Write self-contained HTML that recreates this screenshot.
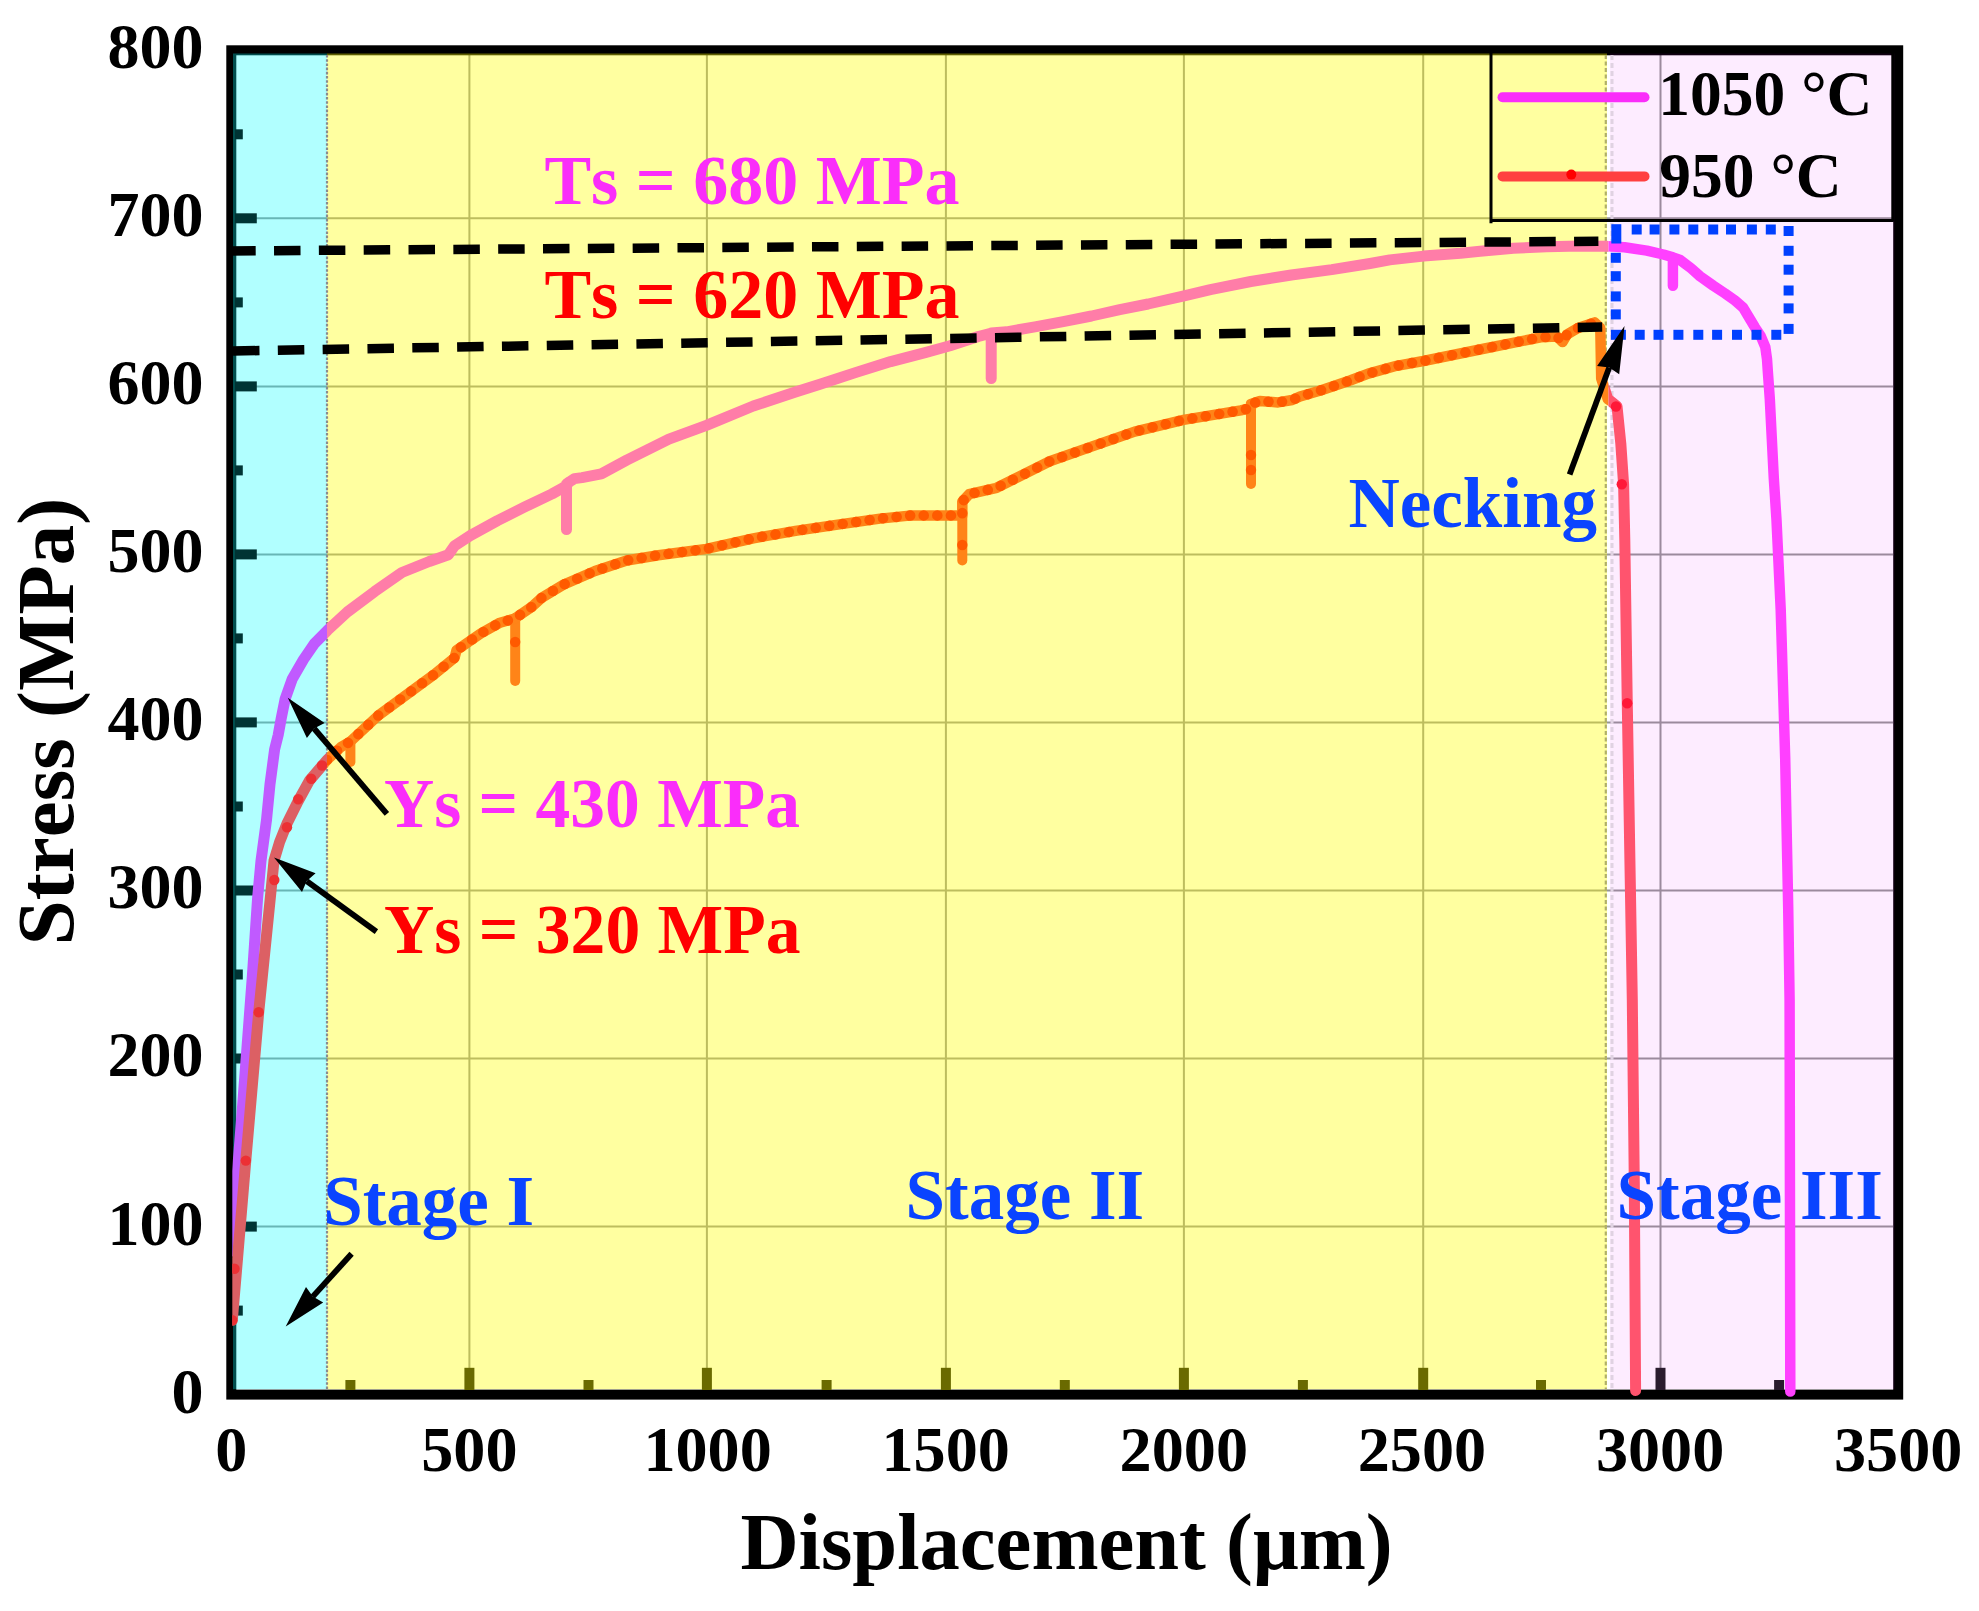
<!DOCTYPE html>
<html lang="en"><head><meta charset="utf-8"><title>Stress - Displacement</title>
<style>html,body{margin:0;padding:0;background:#fff}svg{display:block}text{font-family:"Liberation Serif","DejaVu Serif",serif;font-weight:bold;font-kerning:none}</style></head><body>
<svg width="1979" height="1611" viewBox="0 0 1979 1611">
<rect width="1979" height="1611" fill="#fff"/>
<defs>
<clipPath id="cC"><rect x="232.3" y="50" width="94.7" height="1350"/></clipPath>
<clipPath id="cY"><rect x="327.0" y="50" width="1281.5" height="1350"/></clipPath>
<clipPath id="cP"><rect x="1608.5" y="50" width="293.0" height="1350"/></clipPath>
<clipPath id="cAll"><rect x="232.3" y="50" width="1670" height="1350"/></clipPath>
</defs>
<g stroke="#969696" stroke-width="2">
<line x1="469.4" y1="55" x2="469.4" y2="1390"/>
<line x1="706.9" y1="55" x2="706.9" y2="1390"/>
<line x1="945.9" y1="55" x2="945.9" y2="1390"/>
<line x1="1183.9" y1="55" x2="1183.9" y2="1390"/>
<line x1="1423.2" y1="55" x2="1423.2" y2="1390"/>
<line x1="1660.5" y1="55" x2="1660.5" y2="1390"/>
<line x1="236" y1="1226.6" x2="1893" y2="1226.6"/>
<line x1="236" y1="1058.5" x2="1893" y2="1058.5"/>
<line x1="236" y1="890.5" x2="1893" y2="890.5"/>
<line x1="236" y1="722.4" x2="1893" y2="722.4"/>
<line x1="236" y1="554.4" x2="1893" y2="554.4"/>
<line x1="236" y1="386.4" x2="1893" y2="386.4"/>
<line x1="236" y1="218.3" x2="1893" y2="218.3"/>
</g>
<rect x="231.3" y="50.3" width="1666.9" height="1344.3" fill="none" stroke="#000" stroke-width="10"/>
<rect x="233" y="53.5" width="94.0" height="1335.7" fill="rgb(0,255,255)" fill-opacity="0.305"/>
<rect x="327.0" y="53.5" width="1280.0" height="1335.7" fill="rgb(255,255,0)" fill-opacity="0.373"/>
<rect x="1610.0" y="53.5" width="284.5" height="1335.7" fill="rgb(230,0,255)" fill-opacity="0.075"/>
<g stroke="#003434" stroke-width="10"><line x1="235" y1="1226.6" x2="256.8" y2="1226.6"/><line x1="235" y1="1058.5" x2="256.8" y2="1058.5"/><line x1="235" y1="890.5" x2="256.8" y2="890.5"/><line x1="235" y1="722.4" x2="256.8" y2="722.4"/><line x1="235" y1="554.4" x2="256.8" y2="554.4"/><line x1="235" y1="386.4" x2="256.8" y2="386.4"/><line x1="235" y1="218.3" x2="256.8" y2="218.3"/><line x1="235" y1="1310.6" x2="242.8" y2="1310.6"/><line x1="235" y1="1142.5" x2="242.8" y2="1142.5"/><line x1="235" y1="974.5" x2="242.8" y2="974.5"/><line x1="235" y1="806.5" x2="242.8" y2="806.5"/><line x1="235" y1="638.4" x2="242.8" y2="638.4"/><line x1="235" y1="470.4" x2="242.8" y2="470.4"/><line x1="235" y1="302.4" x2="242.8" y2="302.4"/><line x1="235" y1="134.3" x2="242.8" y2="134.3"/></g><line x1="350.4" y1="1390" x2="350.4" y2="1380.0" stroke="#6A6A00" stroke-width="10"/><line x1="469.4" y1="1390" x2="469.4" y2="1367.8" stroke="#6A6A00" stroke-width="10"/><line x1="588.5" y1="1390" x2="588.5" y2="1380.0" stroke="#6A6A00" stroke-width="10"/><line x1="706.9" y1="1390" x2="706.9" y2="1367.8" stroke="#6A6A00" stroke-width="10"/><line x1="826.6" y1="1390" x2="826.6" y2="1380.0" stroke="#6A6A00" stroke-width="10"/><line x1="945.9" y1="1390" x2="945.9" y2="1367.8" stroke="#6A6A00" stroke-width="10"/><line x1="1064.8" y1="1390" x2="1064.8" y2="1380.0" stroke="#6A6A00" stroke-width="10"/><line x1="1183.9" y1="1390" x2="1183.9" y2="1367.8" stroke="#6A6A00" stroke-width="10"/><line x1="1302.9" y1="1390" x2="1302.9" y2="1380.0" stroke="#6A6A00" stroke-width="10"/><line x1="1423.2" y1="1390" x2="1423.2" y2="1367.8" stroke="#6A6A00" stroke-width="10"/><line x1="1541.0" y1="1390" x2="1541.0" y2="1380.0" stroke="#6A6A00" stroke-width="10"/><line x1="1660.5" y1="1390" x2="1660.5" y2="1367.8" stroke="#2A1C2E" stroke-width="10"/><line x1="1779.1" y1="1390" x2="1779.1" y2="1380.0" stroke="#2A1C2E" stroke-width="10"/>
<line x1="327.0" y1="55" x2="327.0" y2="1390" stroke="#8c8c8c" stroke-width="2.2" stroke-dasharray="2.6 1.6"/>
<line x1="1605.8" y1="55" x2="1605.8" y2="1389" stroke="#B0B068" stroke-width="2.2" stroke-dasharray="4 2.5"/>
<line x1="1612" y1="55" x2="1612" y2="1389" stroke="#E0D2E2" stroke-width="3" stroke-dasharray="5 3"/>
<polyline clip-path="url(#cC)" points="231.3,1251.0 242.6,1105.8 252.3,976.8 257.6,898.0 261.0,860.7 266.5,820.0 270.0,784.3 274.6,749.5 278.2,735.0 281.1,719.0 285.1,699.2 292.1,679.3 303.5,659.5 314.4,643.6 327.5,630.3 347.3,612.0 374.6,591.6 401.9,572.5 429.2,561.5 448.4,554.7 454.5,545.8 470.2,535.6 497.5,520.6 524.8,506.9 552.1,493.9 563.5,487.5 566.5,485.5 566.5,529.5 566.5,484.0 570.0,481.5 574.5,478.6 582.0,477.6 601.3,473.9 626.7,460.2 668.9,439.1 706.4,425.4 753.3,406.0 795.5,392.0 820.0,384.3 855.4,372.6 890.7,361.6 926.1,352.4 950.0,345.7 978.3,336.5 988.0,334.0 991.2,333.5 991.2,378.5 991.2,333.0 1006.6,331.8 1034.9,326.9 1063.2,321.6 1091.5,316.0 1119.8,309.6 1148.1,304.0 1184.1,295.9 1210.4,289.6 1250.8,281.5 1291.3,275.0 1331.7,269.6 1370.0,263.5 1389.8,259.9 1423.7,256.1 1460.5,253.3 1480.0,251.3 1513.4,248.3 1546.7,246.8 1580.1,246.1 1606.7,246.3 1624.5,247.2 1646.8,250.6 1663.4,254.5 1672.9,257.3 1672.9,285.8 1672.9,257.3 1680.1,260.0 1691.2,268.4 1700.0,276.2 1713.2,285.6 1725.1,293.5 1735.0,300.5 1743.0,307.4 1748.9,317.3 1754.9,327.3 1760.8,336.2 1765.3,347.1 1767.0,359.0 1767.8,371.0 1769.8,398.8 1771.8,438.5 1773.8,478.2 1776.5,520.0 1780.7,609.4 1785.2,758.4 1788.2,907.4 1789.6,1000.0 1790.3,1391.5" fill="none" stroke="#C05AFF" stroke-width="11" stroke-linejoin="round" stroke-linecap="round"/><polyline clip-path="url(#cY)" points="231.3,1251.0 242.6,1105.8 252.3,976.8 257.6,898.0 261.0,860.7 266.5,820.0 270.0,784.3 274.6,749.5 278.2,735.0 281.1,719.0 285.1,699.2 292.1,679.3 303.5,659.5 314.4,643.6 327.5,630.3 347.3,612.0 374.6,591.6 401.9,572.5 429.2,561.5 448.4,554.7 454.5,545.8 470.2,535.6 497.5,520.6 524.8,506.9 552.1,493.9 563.5,487.5 566.5,485.5 566.5,529.5 566.5,484.0 570.0,481.5 574.5,478.6 582.0,477.6 601.3,473.9 626.7,460.2 668.9,439.1 706.4,425.4 753.3,406.0 795.5,392.0 820.0,384.3 855.4,372.6 890.7,361.6 926.1,352.4 950.0,345.7 978.3,336.5 988.0,334.0 991.2,333.5 991.2,378.5 991.2,333.0 1006.6,331.8 1034.9,326.9 1063.2,321.6 1091.5,316.0 1119.8,309.6 1148.1,304.0 1184.1,295.9 1210.4,289.6 1250.8,281.5 1291.3,275.0 1331.7,269.6 1370.0,263.5 1389.8,259.9 1423.7,256.1 1460.5,253.3 1480.0,251.3 1513.4,248.3 1546.7,246.8 1580.1,246.1 1606.7,246.3 1624.5,247.2 1646.8,250.6 1663.4,254.5 1672.9,257.3 1672.9,285.8 1672.9,257.3 1680.1,260.0 1691.2,268.4 1700.0,276.2 1713.2,285.6 1725.1,293.5 1735.0,300.5 1743.0,307.4 1748.9,317.3 1754.9,327.3 1760.8,336.2 1765.3,347.1 1767.0,359.0 1767.8,371.0 1769.8,398.8 1771.8,438.5 1773.8,478.2 1776.5,520.0 1780.7,609.4 1785.2,758.4 1788.2,907.4 1789.6,1000.0 1790.3,1391.5" fill="none" stroke="#FF7DA8" stroke-width="11" stroke-linejoin="round" stroke-linecap="round"/><polyline clip-path="url(#cP)" points="231.3,1251.0 242.6,1105.8 252.3,976.8 257.6,898.0 261.0,860.7 266.5,820.0 270.0,784.3 274.6,749.5 278.2,735.0 281.1,719.0 285.1,699.2 292.1,679.3 303.5,659.5 314.4,643.6 327.5,630.3 347.3,612.0 374.6,591.6 401.9,572.5 429.2,561.5 448.4,554.7 454.5,545.8 470.2,535.6 497.5,520.6 524.8,506.9 552.1,493.9 563.5,487.5 566.5,485.5 566.5,529.5 566.5,484.0 570.0,481.5 574.5,478.6 582.0,477.6 601.3,473.9 626.7,460.2 668.9,439.1 706.4,425.4 753.3,406.0 795.5,392.0 820.0,384.3 855.4,372.6 890.7,361.6 926.1,352.4 950.0,345.7 978.3,336.5 988.0,334.0 991.2,333.5 991.2,378.5 991.2,333.0 1006.6,331.8 1034.9,326.9 1063.2,321.6 1091.5,316.0 1119.8,309.6 1148.1,304.0 1184.1,295.9 1210.4,289.6 1250.8,281.5 1291.3,275.0 1331.7,269.6 1370.0,263.5 1389.8,259.9 1423.7,256.1 1460.5,253.3 1480.0,251.3 1513.4,248.3 1546.7,246.8 1580.1,246.1 1606.7,246.3 1624.5,247.2 1646.8,250.6 1663.4,254.5 1672.9,257.3 1672.9,285.8 1672.9,257.3 1680.1,260.0 1691.2,268.4 1700.0,276.2 1713.2,285.6 1725.1,293.5 1735.0,300.5 1743.0,307.4 1748.9,317.3 1754.9,327.3 1760.8,336.2 1765.3,347.1 1767.0,359.0 1767.8,371.0 1769.8,398.8 1771.8,438.5 1773.8,478.2 1776.5,520.0 1780.7,609.4 1785.2,758.4 1788.2,907.4 1789.6,1000.0 1790.3,1391.5" fill="none" stroke="#FF40FF" stroke-width="10.5" stroke-linejoin="round" stroke-linecap="round"/>
<line x1="350.4" y1="741.5" x2="350.4" y2="762.0" stroke="#FF8418" stroke-width="10" stroke-linecap="round"/>
<line x1="515.2" y1="618.0" x2="515.2" y2="681.0" stroke="#FF8418" stroke-width="10" stroke-linecap="round"/>
<line x1="962.3" y1="515.4" x2="962.3" y2="560.5" stroke="#FF8418" stroke-width="10" stroke-linecap="round"/>
<line x1="1251.0" y1="408.0" x2="1251.0" y2="484.0" stroke="#FF8418" stroke-width="10" stroke-linecap="round"/>
<circle cx="515.2" cy="642.0" r="5.2" fill="#FF5A00"/>
<circle cx="962.3" cy="545.0" r="5.2" fill="#FF5A00"/>
<circle cx="1251.0" cy="455.0" r="5.2" fill="#FF5A00"/>
<circle cx="1251.0" cy="470.0" r="5.2" fill="#FF5A00"/>
<polyline clip-path="url(#cC)" points="232.3,1320.3 245.8,1160.6 258.7,1012.3 270.3,898.0 274.0,860.7 279.6,842.0 287.0,823.5 298.2,801.0 309.4,780.6 327.0,760.0 341.0,747.0 350.4,741.5 378.3,715.5 406.2,695.0 434.1,674.5 454.6,657.7 456.5,650.3 480.7,633.5 500.0,622.7 514.8,618.5 531.7,606.9 542.2,597.4 563.3,584.7 595.0,571.0 626.7,560.5 658.3,555.2 706.4,548.9 753.3,538.3 795.5,530.9 837.7,524.6 880.0,518.6 911.8,515.4 958.5,515.4 962.3,515.4 962.3,501.6 969.1,494.2 996.7,487.8 1049.8,461.3 1092.2,446.4 1134.7,431.6 1183.5,419.9 1240.8,410.4 1251.0,408.0 1251.0,404.0 1259.9,401.0 1278.1,402.4 1292.2,400.0 1300.0,396.5 1320.5,390.5 1350.0,380.5 1368.3,373.6 1396.6,365.8 1423.4,361.0 1484.8,348.5 1540.7,337.3 1557.0,336.6 1562.5,342.0 1567.0,334.5 1578.0,328.0 1594.7,322.4 1600.3,328.0 1601.2,378.3 1607.7,398.8 1617.0,406.2 1620.8,443.5 1623.6,484.4 1624.8,540.0 1627.2,698.8 1630.2,877.6 1632.3,1000.0 1634.3,1182.5 1635.6,1390.5" fill="none" stroke="#DC6064" stroke-width="11" stroke-linejoin="round" stroke-linecap="round"/><polyline clip-path="url(#cY)" points="232.3,1320.3 245.8,1160.6 258.7,1012.3 270.3,898.0 274.0,860.7 279.6,842.0 287.0,823.5 298.2,801.0 309.4,780.6 327.0,760.0 341.0,747.0 350.4,741.5 378.3,715.5 406.2,695.0 434.1,674.5 454.6,657.7 456.5,650.3 480.7,633.5 500.0,622.7 514.8,618.5 531.7,606.9 542.2,597.4 563.3,584.7 595.0,571.0 626.7,560.5 658.3,555.2 706.4,548.9 753.3,538.3 795.5,530.9 837.7,524.6 880.0,518.6 911.8,515.4 958.5,515.4 962.3,515.4 962.3,501.6 969.1,494.2 996.7,487.8 1049.8,461.3 1092.2,446.4 1134.7,431.6 1183.5,419.9 1240.8,410.4 1251.0,408.0 1251.0,404.0 1259.9,401.0 1278.1,402.4 1292.2,400.0 1300.0,396.5 1320.5,390.5 1350.0,380.5 1368.3,373.6 1396.6,365.8 1423.4,361.0 1484.8,348.5 1540.7,337.3 1557.0,336.6 1562.5,342.0 1567.0,334.5 1578.0,328.0 1594.7,322.4 1600.3,328.0 1601.2,378.3 1607.7,398.8 1617.0,406.2 1620.8,443.5 1623.6,484.4 1624.8,540.0 1627.2,698.8 1630.2,877.6 1632.3,1000.0 1634.3,1182.5 1635.6,1390.5" fill="none" stroke="#FF8418" stroke-width="10.5" stroke-linejoin="round" stroke-linecap="round"/><polyline clip-path="url(#cP)" points="232.3,1320.3 245.8,1160.6 258.7,1012.3 270.3,898.0 274.0,860.7 279.6,842.0 287.0,823.5 298.2,801.0 309.4,780.6 327.0,760.0 341.0,747.0 350.4,741.5 378.3,715.5 406.2,695.0 434.1,674.5 454.6,657.7 456.5,650.3 480.7,633.5 500.0,622.7 514.8,618.5 531.7,606.9 542.2,597.4 563.3,584.7 595.0,571.0 626.7,560.5 658.3,555.2 706.4,548.9 753.3,538.3 795.5,530.9 837.7,524.6 880.0,518.6 911.8,515.4 958.5,515.4 962.3,515.4 962.3,501.6 969.1,494.2 996.7,487.8 1049.8,461.3 1092.2,446.4 1134.7,431.6 1183.5,419.9 1240.8,410.4 1251.0,408.0 1251.0,404.0 1259.9,401.0 1278.1,402.4 1292.2,400.0 1300.0,396.5 1320.5,390.5 1350.0,380.5 1368.3,373.6 1396.6,365.8 1423.4,361.0 1484.8,348.5 1540.7,337.3 1557.0,336.6 1562.5,342.0 1567.0,334.5 1578.0,328.0 1594.7,322.4 1600.3,328.0 1601.2,378.3 1607.7,398.8 1617.0,406.2 1620.8,443.5 1623.6,484.4 1624.8,540.0 1627.2,698.8 1630.2,877.6 1632.3,1000.0 1634.3,1182.5 1635.6,1390.5" fill="none" stroke="#FF546E" stroke-width="11" stroke-linejoin="round" stroke-linecap="round"/>
<polyline clip-path="url(#cY)" points="327.0,760.0 341.0,747.0 350.4,741.5 378.3,715.5 406.2,695.0 434.1,674.5 454.6,657.7 456.5,650.3 480.7,633.5 500.0,622.7 514.8,618.5 531.7,606.9 542.2,597.4 563.3,584.7 595.0,571.0 626.7,560.5 658.3,555.2 706.4,548.9 753.3,538.3 795.5,530.9 837.7,524.6 880.0,518.6 911.8,515.4 958.5,515.4 962.3,515.4 962.3,501.6 969.1,494.2 996.7,487.8 1049.8,461.3 1092.2,446.4 1134.7,431.6 1183.5,419.9 1240.8,410.4 1251.0,408.0 1251.0,404.0 1259.9,401.0 1278.1,402.4 1292.2,400.0 1300.0,396.5 1320.5,390.5 1350.0,380.5 1368.3,373.6 1396.6,365.8 1423.4,361.0 1484.8,348.5 1540.7,337.3 1557.0,336.6 1562.5,342.0 1567.0,334.5 1578.0,328.0 1594.7,322.4 1600.3,328.0" fill="none" stroke="#FF5A00" stroke-width="10.5" stroke-linecap="round" stroke-linejoin="round" stroke-dasharray="0.1 13.5"/>
<g clip-path="url(#cAll)">
<circle cx="232.3" cy="1320.3" r="5.2" fill="#EC3034"/>
<circle cx="234.5" cy="1268.7" r="5.2" fill="#EC3034"/>
<circle cx="245.8" cy="1160.6" r="5.2" fill="#EC3034"/>
<circle cx="258.7" cy="1012.3" r="5.2" fill="#EC3034"/>
<circle cx="274.3" cy="880.0" r="5.2" fill="#EC3034"/>
<circle cx="287.0" cy="827.2" r="5.2" fill="#EC3034"/>
<circle cx="298.2" cy="799.3" r="5.2" fill="#EC3034"/>
<circle cx="311.2" cy="778.8" r="5.2" fill="#EC3034"/>
<circle cx="322.0" cy="765.5" r="5.2" fill="#EC3034"/>
<circle cx="1616.0" cy="406.5" r="5.2" fill="#FF1838"/>
<circle cx="1621.8" cy="484.2" r="5.2" fill="#FF1838"/>
<circle cx="1627.2" cy="703.3" r="5.2" fill="#FF1838"/>
</g>
<line x1="229.2" y1="251" x2="1598.4" y2="241.3" stroke="#000" stroke-width="9.5" stroke-dasharray="26.5 18.33"/>
<line x1="233" y1="351" x2="1602.2" y2="327" stroke="#000" stroke-width="9.5" stroke-dasharray="26.5 18.33"/>
<g fill="#0040FF"><rect x="1611.3" y="224.2" width="10" height="19.3"/><rect x="1631.7" y="224.5" width="10" height="10"/><rect x="1649.6" y="224.5" width="10" height="10"/><rect x="1669.4" y="224.5" width="10" height="10"/><rect x="1688.3" y="224.5" width="10" height="10"/><rect x="1708.2" y="224.5" width="10" height="10"/><rect x="1726.0" y="224.5" width="10" height="10"/><rect x="1746.9" y="224.5" width="10" height="10"/><rect x="1765.8" y="224.5" width="10" height="10"/><rect x="1783.6" y="226.0" width="10" height="10"/><rect x="1783.6" y="245.8" width="10" height="10"/><rect x="1783.6" y="264.7" width="10" height="10"/><rect x="1783.6" y="285.5" width="10" height="10"/><rect x="1783.6" y="303.4" width="10" height="10"/><rect x="1783.6" y="323.9" width="10" height="10"/><rect x="1634.7" y="329.8" width="10" height="10"/><rect x="1653.5" y="329.8" width="10" height="10"/><rect x="1673.4" y="329.8" width="10" height="10"/><rect x="1693.3" y="329.8" width="10" height="10"/><rect x="1712.1" y="329.8" width="10" height="10"/><rect x="1732.0" y="329.8" width="10" height="10"/><rect x="1751.5" y="329.8" width="10" height="10"/><rect x="1771.3" y="329.8" width="10" height="10"/><rect x="1610.9" y="329.8" width="15" height="10"/><rect x="1610.8" y="252.8" width="10" height="10"/><rect x="1610.8" y="271.2" width="10" height="10"/><rect x="1610.8" y="291.4" width="10" height="10"/><rect x="1610.8" y="309.4" width="10" height="10"/></g>
<line x1="386.9" y1="813.8" x2="314.1" y2="728.5" stroke="#000" stroke-width="5.8"/><polygon points="287.8,697.8 324.6,723.0 314.1,728.5 306.9,738.0" fill="#000"/>
<line x1="376.4" y1="931.7" x2="306.7" y2="881.1" stroke="#000" stroke-width="5.8"/><polygon points="274.0,857.4 315.6,873.3 306.7,881.1 302.0,892.0" fill="#000"/>
<line x1="351.6" y1="1253.8" x2="312.8" y2="1296.6" stroke="#000" stroke-width="5.8"/><polygon points="285.7,1326.5 306.0,1286.9 312.8,1296.6 323.2,1302.4" fill="#000"/>
<line x1="1569.6" y1="474.4" x2="1609.2" y2="367.5" stroke="#000" stroke-width="5.8"/><polygon points="1624.5,326.1 1619.2,374.3 1609.2,367.5 1597.1,366.1" fill="#000"/>
<path d="M1491,52 V223.3 M1489.6,220.4 H1893 M1892.8,52 V221.8" fill="none" stroke="#000" stroke-width="3"/>
<line x1="1502.5" y1="97.3" x2="1644.5" y2="97.3" stroke="#FA2DFA" stroke-width="10" stroke-linecap="round"/>
<line x1="1502.5" y1="176.4" x2="1644.5" y2="176.4" stroke="#FF4040" stroke-width="10" stroke-linecap="round"/>
<circle cx="1571.3" cy="174.6" r="5" fill="#FF0000"/>
<text x="1658.3" y="115.2" font-size="63.5" fill="#000">1050 °C</text>
<text x="1659.3" y="196.8" font-size="63.5" fill="#000">950 °C</text>
<text x="544.4" y="204.1" font-size="70" fill="#FA2DFA">Ts = 680 MPa</text>
<text x="544.4" y="317.6" font-size="70" fill="#FF0000">Ts = 620 MPa</text>
<text x="384" y="827" font-size="69.5" fill="#FA2DFA">Ys = 430 MPa</text>
<text x="384" y="953" font-size="69.6" fill="#FF0000">Ys = 320 MPa</text>
<text x="1348.5" y="526.5" font-size="71" fill="#0A44FF">Necking</text>
<text x="323.2" y="1225" font-size="71" fill="#0A44FF">Stage I</text>
<text x="905.5" y="1219" font-size="71" fill="#0A44FF">Stage II</text>
<text x="1616.5" y="1218.7" font-size="71" fill="#0A44FF">Stage III</text>
<text x="203.6" y="1412.5" font-size="64" text-anchor="end" fill="#000">0</text>
<text x="203.6" y="1244.5" font-size="64" text-anchor="end" fill="#000">100</text>
<text x="203.6" y="1076.4" font-size="64" text-anchor="end" fill="#000">200</text>
<text x="203.6" y="908.4" font-size="64" text-anchor="end" fill="#000">300</text>
<text x="203.6" y="740.3" font-size="64" text-anchor="end" fill="#000">400</text>
<text x="203.6" y="572.3" font-size="64" text-anchor="end" fill="#000">500</text>
<text x="203.6" y="404.3" font-size="64" text-anchor="end" fill="#000">600</text>
<text x="203.6" y="236.2" font-size="64" text-anchor="end" fill="#000">700</text>
<text x="203.6" y="68.2" font-size="64" text-anchor="end" fill="#000">800</text>
<text x="231.3" y="1471.2" font-size="64.2" text-anchor="middle" fill="#000">0</text>
<text x="469.4" y="1471.2" font-size="64.2" text-anchor="middle" fill="#000">500</text>
<text x="707.6" y="1471.2" font-size="64.2" text-anchor="middle" fill="#000">1000</text>
<text x="945.7" y="1471.2" font-size="64.2" text-anchor="middle" fill="#000">1500</text>
<text x="1183.8" y="1471.2" font-size="64.2" text-anchor="middle" fill="#000">2000</text>
<text x="1421.9" y="1471.2" font-size="64.2" text-anchor="middle" fill="#000">2500</text>
<text x="1660.1" y="1471.2" font-size="64.2" text-anchor="middle" fill="#000">3000</text>
<text x="1898.2" y="1471.2" font-size="64.2" text-anchor="middle" fill="#000">3500</text>
<text x="1066.5" y="1568.5" font-size="80.6" text-anchor="middle" fill="#000">Displacement (μm)</text>
<text transform="translate(73.2,721.5) rotate(-90)" font-size="81" text-anchor="middle" fill="#000">Stress (MPa)</text>
</svg></body></html>
